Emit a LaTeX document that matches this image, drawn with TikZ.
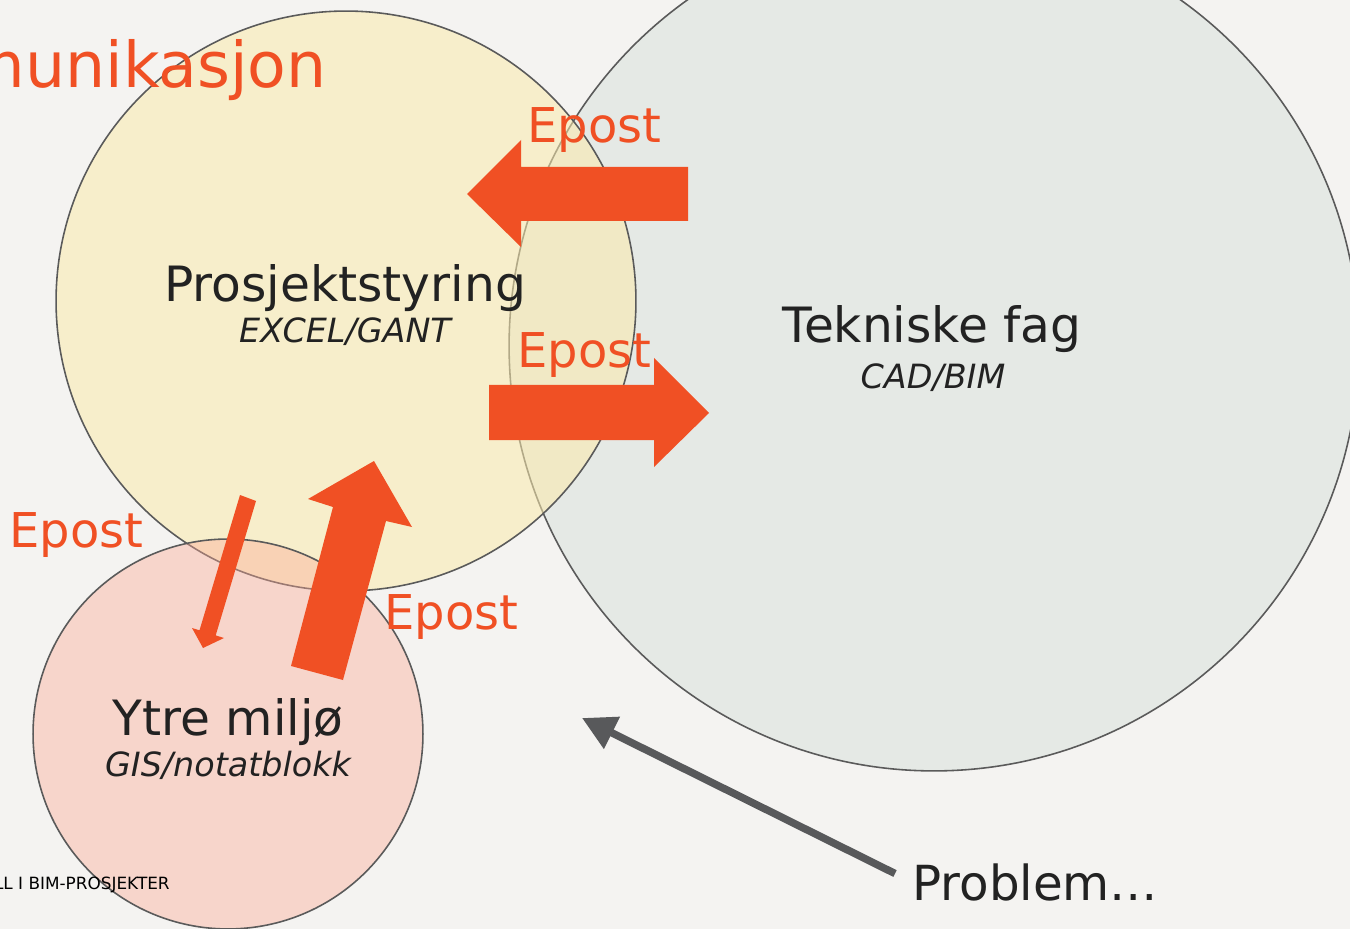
\documentclass[tikz,border=0pt]{standalone}
\usepackage{fontspec}
\setmainfont{DejaVu Sans}
\usepackage{xcolor}
\usetikzlibrary{arrows.meta}

\definecolor{bgpaper}{HTML}{F4F3F1}
\definecolor{epostorange}{HTML}{F05024}
\definecolor{ballyellow}{RGB}{251,234,172}
\definecolor{ballgrey}{HTML}{E5E9E5}
\definecolor{ballpink}{RGB}{252,168,148}
\definecolor{rimgrey}{HTML}{5A5A5A}
\definecolor{darktext}{HTML}{222222}
\definecolor{problemgrey}{HTML}{58595B}

\begin{document}
\begin{tikzpicture}[x=0.02cm, y=-0.02cm,
    ball/.style={circle, draw=rimgrey, line width=0.9pt, inner sep=0pt},
    fagtxt/.style={text=darktext, inner sep=0pt, anchor=base, font=\fontsize{27.7}{30}\selectfont},
    verktoytxt/.style={text=darktext, inner sep=0pt, anchor=base, font=\fontsize{19}{22}\selectfont\itshape},
    eposttxt/.style={text=epostorange, inner sep=0pt, anchor=base west, font=\fontsize{27.3}{30}\selectfont},
    blokkpil/.style={fill=epostorange},
    problempil/.style={draw=problemgrey, line width=0.15cm, -{Triangle[length=0.67cm, width=0.68cm]}}]
    \fill[bgpaper] (0,0) rectangle (1350,929);
    \useasboundingbox (0,0) rectangle (1350,929);

    % Circles
    \node[ball, fill=ballgrey, minimum size=17cm] (tekniske) at (934,346) {};
    \node[ball, fill=ballyellow, fill opacity=0.55, minimum size=11.6cm] (styring) at (346,301) {};
    \node[ball, fill=ballpink, fill opacity=0.4, minimum size=7.8cm] (ytre) at (228,734) {};

    % Epost arrows
    \fill[blokkpil] (688,167) -- (521,167) -- (521,140) -- (467,194)
        -- (521,247) -- (521,221) -- (688,221) -- cycle;
    \fill[blokkpil] (489,385) -- (654,385) -- (654,358) -- (709,413)
        -- (654,467) -- (654,440) -- (489,440) -- cycle;
    \fill[blokkpil] (291,666) -- (333,507) -- (308,499) -- (374,461)
        -- (412,527) -- (386,521) -- (343,680) -- cycle;
    \fill[blokkpil] (240,495) -- (256,501) -- (215.7,635.4) -- (224,638)
        -- (203,648) -- (192,628) -- (199.5,630.3) -- cycle;

    % Labels
    \node[text=epostorange, inner sep=0pt, anchor=base east, font=\fontsize{36}{40}\selectfont] (tittel) at (327,88) {Kommunikasjon};
    \node[fagtxt] (styringtxt) at (345,302) {Prosjektstyring};
    \node[verktoytxt] (styringverktoy) at (345,343) {EXCEL/GANT};
    \node[fagtxt] (teknisketxt) at (932,343) {Tekniske fag};
    \node[verktoytxt] (tekniskeverktoy) at (933,389) {CAD/BIM};
    \node[fagtxt] (ytretxt) at (228,735) {Ytre miljø};
    \node[verktoytxt] (ytreverktoy) at (228,776) {GIS/notatblokk};
    \foreach \x/\y/\n in {527/143/a, 517/368/b, 9/547/c, 384/629/d} {
        \node[eposttxt] (epost\n) at (\x,\y) {Epost};
    }
    \node[text=black, inner sep=0pt, anchor=base east, font=\fontsize{9.6}{11}\selectfont] (bunntekst) at (170,889) {LL I BIM-PROSJEKTER};

    % Problem
    \node[text=darktext, inner sep=0pt, anchor=base west, font=\fontsize{27.5}{30}\selectfont] (problemtxt) at (912,900) {Problem…};
    \coordinate (problemtip) at (582,718);
    \draw[problempil, shorten <=0.38cm] (problemtxt.west) -- (problemtip);
\end{tikzpicture}
\end{document}
